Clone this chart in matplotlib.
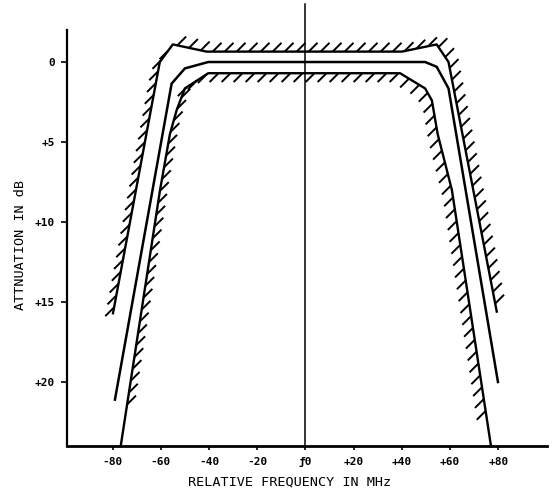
import numpy as np
import matplotlib.pyplot as plt
from matplotlib.collections import LineCollection

# outer (upper) tolerance mask: frequency in MHz, attenuation in dB
upper_f = [-79.8, -60.4, -55.0, -41.0, 40.0, 54.4, 59.3, 79.3]
upper_db = [15.7, 0.0, -1.1, -0.65, -0.65, -1.1, 0.0, 15.6]

# measured response
resp_f = [-79.0, -55.5, -50.0, -40.3, 49.6, 54.4, 59.3, 79.8]
resp_db = [21.1, 1.35, 0.4, 0.0, 0.0, 0.3, 1.65, 20.0]

# inner (lower) tolerance mask
lower_f = [-76.6, -60.3, -56.2, -53.4, -50.0, -40.3, 39.2, 49.6, 52.4, 54.8, 60.7, 76.9]
lower_db = [24.0, 8.0, 4.5, 3.0, 1.65, 0.7, 0.7, 1.65, 2.4, 4.5, 8.0, 24.0]
lower_hatch_limit = 22.0

xticks = [-80, -60, -40, -20, 0, 20, 40, 60, 80]
xtick_labels = ['-80', '-60', '-40', '-20', 'ƒ0', '+20', '+40', '+60', '+80']
yticks = [0, 5, 10, 15, 20]
ytick_labels = ['0', '+5', '+10', '+15', '+20']

plt.rcParams['font.family'] = ['DejaVu Sans Mono', 'DejaVu Sans']
plt.rcParams['font.weight'] = 'bold'

fig = plt.figure(figsize=(5.54, 4.92), dpi=100)
ax = fig.add_axes([0.1204, 0.0935, 0.8664, 0.8455])
ax.set_xlim(-99, 100)
ax.set_ylim(24, -2)


def hatch(ax, xs, ys, side, step=12.0, size=12.5, ymax=None):
    """short '/' strokes along a polyline, on its left (side=1) or right (side=-1)"""
    pts = ax.transData.transform(np.column_stack([xs, ys]))
    inv = ax.transData.inverted()
    d = np.array([1.0, 1.0]) / np.sqrt(2)
    seglen = np.hypot(*np.diff(pts, axis=0).T)
    cum = np.concatenate([[0], np.cumsum(seglen)])
    segs = []
    for s in np.arange(step / 2, cum[-1], step):
        i = min(np.searchsorted(cum, s, side='right') - 1, len(seglen) - 1)
        t = (pts[i + 1] - pts[i]) / seglen[i]
        a = pts[i] + t * (s - cum[i])
        n = np.array([-t[1], t[0]]) * side
        dd = d if np.dot(d, n) > 0 else -d
        p = inv.transform([a, a + dd * size])
        if ymax is not None and p[0][1] > ymax:
            continue
        segs.append(p)
    ax.add_collection(LineCollection(segs, colors='black', linewidths=1.4, clip_on=False))


ax.plot(upper_f, upper_db, color='black', lw=1.7, clip_on=False)
hatch(ax, upper_f, upper_db, side=1)

ax.plot(lower_f, lower_db, color='black', lw=1.7, clip_on=False)
hatch(ax, lower_f, lower_db, side=-1, ymax=lower_hatch_limit)

ax.plot(resp_f, resp_db, color='black', lw=1.8)

# centre frequency marker
ax.plot([0, 0], [24, -3.65], color='black', lw=1.1, clip_on=False)

ax.spines['top'].set_visible(False)
ax.spines['right'].set_visible(False)
ax.spines['left'].set_linewidth(1.6)
ax.spines['bottom'].set_linewidth(2.0)

ax.set_xticks(xticks)
ax.set_xticklabels(xtick_labels)
ax.set_yticks(yticks)
ax.set_yticklabels(ytick_labels)
ax.tick_params(axis='x', direction='out', length=3, width=1.2, pad=5, labelsize=8)
ax.tick_params(axis='y', direction='out', length=4.5, width=1.2, pad=4, labelsize=8)

ax.set_xlabel('RELATIVE FREQUENCY IN MHz', fontsize=9.7)
ax.xaxis.set_label_coords(0.465, -0.072)
ax.set_ylabel('ATTNUATION IN dB', fontsize=9.7)
ax.yaxis.set_label_coords(-0.083, 0.483)

fig.savefig('out.png', dpi=100)
